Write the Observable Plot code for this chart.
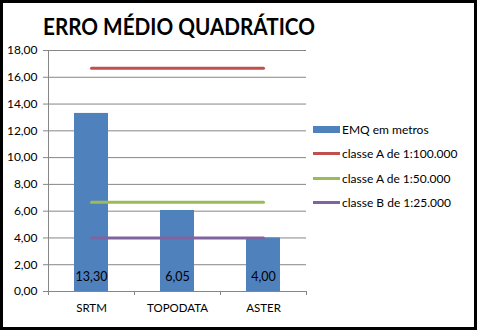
<!DOCTYPE html>
<html>
<head>
<meta charset="utf-8">
<script src="https://cdn.jsdelivr.net/npm/d3@7"></script>
<script src="https://cdn.jsdelivr.net/npm/@observablehq/plot@0.6"></script>
<style>
  html, body { margin: 0; padding: 0; background: #fff; }
  #wrap { position: relative; width: 480px; height: 332px; overflow: hidden; font-family: Lato, "Open Sans", sans-serif; }
  #wrap svg { position: absolute; left: 0; top: 0; }
  #border { position: absolute; left: 0; top: 0; width: 477px; height: 330px; box-sizing: border-box; border: 3px solid #000; pointer-events: none; }
  #title { position: absolute; left: 43px; top: 12px; font: bold 23px Lato, sans-serif; color: #000; white-space: nowrap; transform: scaleX(0.9); transform-origin: left top; }
  #legend { position: absolute; left: 313px; top: 0; font: 12px Lato, sans-serif; color: #000; }
  .item { position: absolute; left: 0; white-space: nowrap; display: flex; align-items: center; height: 16px; }
  .sw { width: 27px; margin-right: 2px; }
</style>
</head>
<body>
<div id="wrap">
  <div id="title"></div>
  <div id="chart"></div>
  <div id="legend"></div>
  <div id="border"></div>
</div>
<script>
const categories = ["SRTM", "TOPODATA", "ASTER"];
const emq = [13.30, 6.05, 4.00];
const classeA100k = [16.67, 16.67, 16.67];
const classeA50k = [6.67, 6.67, 6.67];
const classeB25k = [4.00, 4.00, 4.00];
const yTicks = [0, 2, 4, 6, 8, 10, 12, 14, 16, 18];
const seriesNames = ["EMQ em metros", "classe A de 1:100.000", "classe A de 1:50.000", "classe B de 1:25.000"];
const seriesColors = ["#4F81BD", "#C0504D", "#9BBB59", "#8064A2"];
const titleText = "ERRO MÉDIO QUADRÁTICO";

const fmt = v => v.toFixed(2).replace(".", ",");
const bars = categories.map((c, i) => ({cat: c, v: emq[i]}));
const lines = [classeA100k, classeA50k, classeB25k].map((arr, k) =>
  categories.map((c, i) => ({cat: c, v: arr[i], s: seriesNames[k + 1]})));

const plot = Plot.plot({
  width: 480, height: 332,
  marginLeft: 48, marginRight: 174, marginTop: 50, marginBottom: 41,
  style: {fontFamily: "Lato, sans-serif", background: "transparent", overflow: "visible", color: "#868686"},
  x: {domain: categories, paddingInner: 0.6, paddingOuter: 0.3, axis: null},
  y: {domain: [0, 18], ticks: yTicks, tickSize: 5, tickFormat: () => "", label: null, line: true},
  marks: [
    Plot.ruleY(yTicks.slice(1), {stroke: "#868686", strokeWidth: 1}),
    Plot.text(yTicks, {y: d => d, frameAnchor: "left", dx: -11, textAnchor: "end", text: d => fmt(d), fontSize: 12, fill: "#000"}),
    Plot.barY(bars, {x: "cat", y: "v", fill: seriesColors[0]}),
    ...lines.map((d, k) => Plot.lineY(d, {x: "cat", y: "v", stroke: seriesColors[k + 1], strokeWidth: 3})),
    Plot.text(bars, {x: "cat", y: 0, dy: -15, text: d => fmt(d.v), fontSize: 12.5, fill: "#000"}),
    Plot.text(categories, {x: d => d, y: 0, dy: 17, text: d => d, fontSize: 11.5, fill: "#000"}),
    Plot.ruleY([0], {stroke: "#868686"}),
    Plot.ruleX(categories, {x: d => d, dx: -43, y1: 0, y2: -0.3, stroke: "#868686"}),
    Plot.ruleX([categories[2]], {x: d => d, dx: 43, y1: 0, y2: -0.3, stroke: "#868686"})
  ]
});
document.getElementById("chart").appendChild(plot);
document.getElementById("title").textContent = titleText;

const legend = document.getElementById("legend");
const rowsY = [129, 153.5, 178, 202.5];
seriesNames.forEach((name, i) => {
  const item = document.createElement("div");
  item.className = "item";
  item.style.top = (rowsY[i] - 8) + "px";
  const sw = document.createElement("div");
  sw.className = "sw";
  sw.style.height = i === 0 ? "7px" : "3px";
  sw.style.background = seriesColors[i];
  const t = document.createElement("span");
  t.textContent = name;
  item.appendChild(sw); item.appendChild(t);
  legend.appendChild(item);
});
</script>
</body>
</html>
